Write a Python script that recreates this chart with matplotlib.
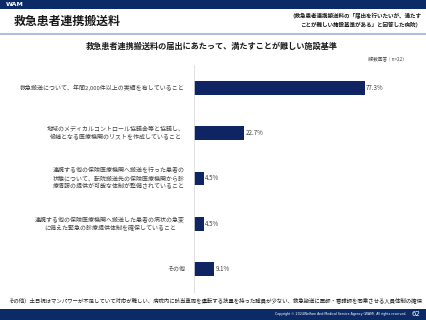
import matplotlib
matplotlib.use("Agg")
import matplotlib.pyplot as plt
from matplotlib.patches import Rectangle

plt.rcParams['font.family'] = ['Noto Sans CJK JP', 'DejaVu Sans']

categories = [
    "救急搬送について、年間2,000件以上の実績を有していること",
    "地域のメディカルコントロール協議会等と協議し、\n候補となる医療機関のリストを作成していること",
    "連携する他の保険医療機関へ搬送を行った患者の\n状態について、転院搬送先の保険医療機関から診\n療情報の提供が可能な体制が整備されていること",
    "連携する他の保険医療機関へ搬送した患者の病状の急変\nに備えた緊急の診療提供体制を確保していること",
    "その他",
]
values = [77.3, 22.7, 4.5, 4.5, 9.1]
value_labels = ["77.3%", "22.7%", "4.5%", "4.5%", "9.1%"]

W, H = 427, 320
fig = plt.figure(figsize=(W / 100, H / 100), dpi=100)
fig.patch.set_facecolor("white")

navy = "#0c2a66"
bar_color = "#0f2463"
text_gray = "#404040"

def px(x, y):
    return x / W, 1 - y / H

# top band
fig.patches.append(Rectangle((0, 1 - 9 / H), 1, 9 / H, transform=fig.transFigure,
                             facecolor=navy, edgecolor="none", zorder=0))
fig.text(*px(6, 4.5), "WAM", color="white", fontsize=4.5, fontweight="bold",
         va="center", ha="left", family=["DejaVu Sans"])

# page title
fig.text(*px(14, 21), "救急患者連携搬送料", fontsize=8.6, fontweight="bold",
         color="#1a1a1a", va="center", ha="left")
fig.text(*px(421, 16.5), "（救急患者連携搬送料の「届出を行いたいが、満たす",
         fontsize=4.0, fontweight="bold", color="#1a1a1a", va="center", ha="right")
fig.text(*px(421, 24.5), "ことが難しい施設基準がある」と回答した病院）",
         fontsize=4.0, fontweight="bold", color="#1a1a1a", va="center", ha="right")

# separator line
fig.lines.append(plt.Line2D([0, 1], [1 - 33.5 / H] * 2, transform=fig.transFigure,
                            color="#9db4dd", linewidth=1.2))

# chart title
fig.text(*px(212, 46), "救急患者連携搬送料の届出にあたって、満たすことが難しい施設基準",
         fontsize=5.9, fontweight="bold", color="#1a1a1a", va="center", ha="center")
fig.text(*px(408, 59), "（複数回答｜n=22）", fontsize=3.3, color=text_gray,
         va="center", ha="right")

# axes
ax = fig.add_axes([194 / W, 28 / H, (415 - 194) / W, (292 - 65) / H])
y = list(range(len(categories)))
ax.barh(y, values, height=0.3, color=bar_color)
ax.set_xlim(0, 100)
ax.set_ylim(len(categories) - 0.5, -0.5)
ax.set_xticks([])
ax.set_yticks([])
for s in ["top", "right", "bottom"]:
    ax.spines[s].set_visible(False)
ax.spines["left"].set_color("#d9d9d9")
ax.spines["left"].set_linewidth(0.6)

for yi, v, lab in zip(y, values, value_labels):
    ax.text(v + 0.6, yi, lab, fontsize=4.4, color=text_gray, va="center", ha="left")

for yi, cat in zip(y, categories):
    ax.annotate(cat, xy=(0, yi), xycoords=("axes fraction", "data"),
                xytext=(-6.5, 0), textcoords="offset points",
                fontsize=4.3, color=text_gray, va="center", ha="right",
                multialignment="center", linespacing=1.4)

# footnote
fig.text(*px(8, 300.5),
         "その他）土日祝はマンパワーが不足していて対応が難しい、病院内に該当車両を運転する技量を持った職員が少ない、救急搬送に医師・看護師を同乗させる人員体制の確保",
         fontsize=3.9, color="#1a1a1a", va="center", ha="left")

# footer band
fig.patches.append(Rectangle((0, 0), 1, 11 / H, transform=fig.transFigure,
                             facecolor=navy, edgecolor="none", zorder=0))
fig.text(*px(406, 314.5),
         "Copyright © 2024Welfare And Medical Service Agency (WAM). All rights reserved.",
         fontsize=2.35, color="white", va="center", ha="right", family=["DejaVu Sans"])
fig.text(*px(420, 314.5), "62", fontsize=5, color="white", va="center",
         ha="right", family=["DejaVu Sans"])

fig.savefig("out.png", dpi=100, facecolor="white")
